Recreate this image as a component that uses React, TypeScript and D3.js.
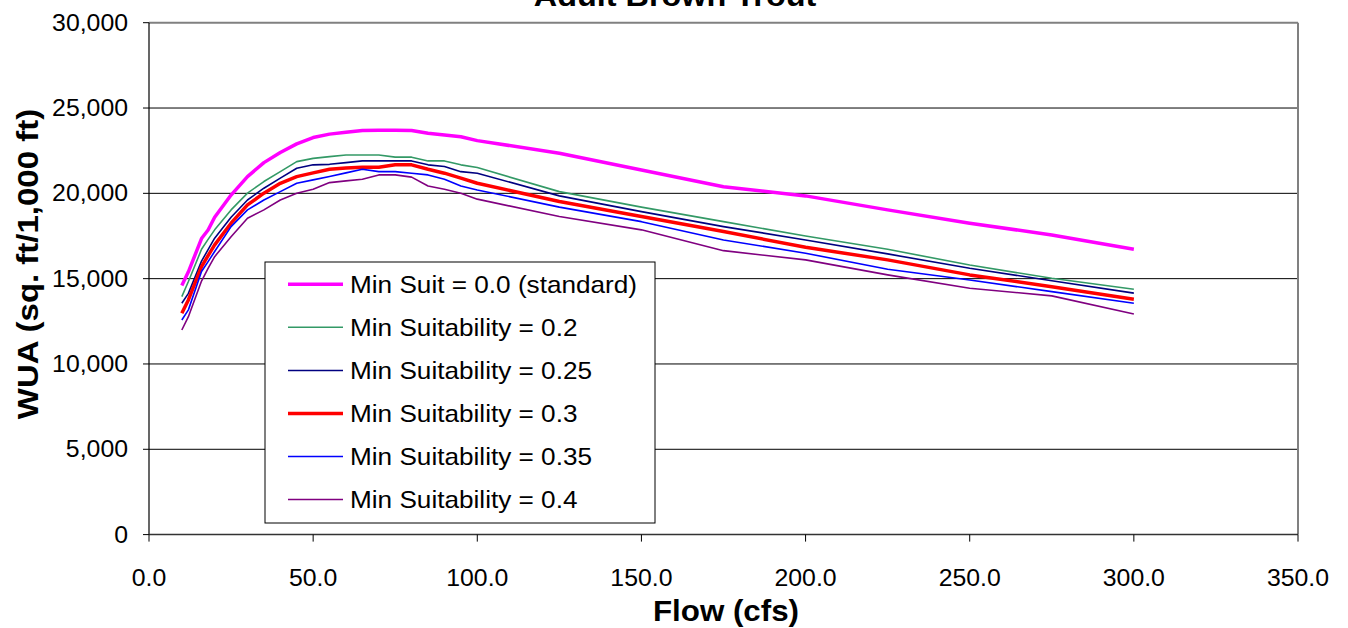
import React from "react";
import * as d3 from "d3";

const flows = [10, 12, 16, 18, 20, 25, 30, 35, 40, 45, 50, 55, 60, 65, 70, 75, 80, 85, 90, 95, 100, 125, 150, 175, 200, 225, 250, 275, 300];

const suit00 = [14600, 15400, 17350, 17850, 18600, 19900, 20980, 21800, 22390, 22900, 23270, 23470, 23580, 23680, 23700, 23700, 23680, 23520, 23420, 23320, 23090, 22350, 21370, 20390, 19850, 19030, 18250, 17560, 16720];
const suit020 = [13950, 14830, 16720, 17300, 17860, 19030, 20010, 20690, 21270, 21860, 22050, 22150, 22250, 22250, 22250, 22120, 22120, 21900, 21900, 21670, 21510, 20100, 19190, 18340, 17500, 16720, 15800, 15020, 14380];
const suit025 = [13560, 14140, 16030, 16700, 17370, 18600, 19610, 20300, 20890, 21470, 21670, 21700, 21800, 21900, 21900, 21900, 21900, 21670, 21570, 21270, 21180, 19850, 18930, 18050, 17270, 16450, 15610, 14880, 14150];
const suit030 = [12970, 13750, 15700, 16350, 16980, 18250, 19320, 20010, 20590, 20980, 21200, 21410, 21480, 21530, 21530, 21670, 21670, 21410, 21180, 20890, 20590, 19520, 18640, 17760, 16840, 16100, 15220, 14530, 13790];
const suit035 = [12580, 13170, 15420, 16000, 16590, 18050, 19030, 19610, 20100, 20590, 20790, 20990, 21200, 21410, 21270, 21270, 21180, 21080, 20830, 20430, 20200, 19190, 18340, 17270, 16490, 15550, 14920, 14240, 13560];
const suit040 = [11990, 12770, 14860, 15600, 16290, 17460, 18540, 19030, 19610, 20010, 20240, 20630, 20730, 20830, 21080, 21080, 20950, 20430, 20240, 20010, 19660, 18640, 17860, 16640, 16100, 15220, 14440, 13990, 12930];

const seriesNames = [
  "Min Suit = 0.0 (standard)",
  "Min Suitability = 0.2",
  "Min Suitability = 0.25",
  "Min Suitability = 0.3",
  "Min Suitability = 0.35",
  "Min Suitability = 0.4",
];
const seriesValues = [suit00, suit020, suit025, suit030, suit035, suit040];
const seriesColors = ["#FF00FF", "#339966", "#000080", "#FF0000", "#0000FF", "#800080"];
const seriesWidths = [3.5, 1.6, 1.6, 3.5, 1.6, 1.6];

const xTicks = [0, 50, 100, 150, 200, 250, 300, 350];
const yTicks = [0, 5000, 10000, 15000, 20000, 25000, 30000];

const title = "Adult Brown Trout";
const xTitle = "Flow (cfs)";
const yTitle = "WUA (sq. ft/1,000 ft)";

const W = 1348;
const H = 628;
const left = 149;
const right = 1298;
const top = 22.7;
const bottom = 534.6;
const FONT = "'Liberation Sans', Arial, sans-serif";
const SX = 1.08;

export default function App() {
  const x = d3.scaleLinear().domain([0, 350]).range([left, right]);
  const y = d3.scaleLinear().domain([0, 30000]).range([bottom, top]);
  const fmtY = d3.format(",");
  const fmtX = d3.format(".1f");

  const line = d3
    .line<number>()
    .x((_, i) => x(flows[i]))
    .y((d) => y(d));

  const legX = 265;
  const legY = 262;
  const legW = 390;
  const legH = 261;
  const rowY = [284.3, 327.3, 370.5, 413.5, 456.5, 499.5];

  return (
    <svg
      width={W}
      height={H}
      style={{ position: "absolute", left: 0, top: 0, background: "#fff" }}
      fontFamily={FONT}
    >
      <rect x={0} y={0} width={W} height={H} fill="#fff" />
      {yTicks.slice(1, -1).map((t) => (
        <line key={t} x1={left} x2={right} y1={y(t)} y2={y(t)} stroke="#000" strokeWidth={1} />
      ))}
      <line x1={left} x2={right} y1={top} y2={top} stroke="#808080" strokeWidth={2} />
      <line x1={right} x2={right} y1={top} y2={bottom} stroke="#808080" strokeWidth={2} />
      <line x1={left} x2={left} y1={top} y2={bottom} stroke="#000" strokeWidth={1.2} />
      <line x1={left} x2={right} y1={bottom} y2={bottom} stroke="#333" strokeWidth={1.5} />
      {yTicks.map((t) => (
        <g key={t}>
          <line x1={left - 6} x2={left} y1={y(t)} y2={y(t)} stroke="#000" strokeWidth={1} />
          <text
            transform={`translate(${128},${y(t) + 8}) scale(${SX},1)`}
            textAnchor="end"
            fontSize={23}
            fill="#000"
          >
            {fmtY(t)}
          </text>
        </g>
      ))}
      {xTicks.map((t) => (
        <g key={t}>
          <line x1={x(t)} x2={x(t)} y1={bottom} y2={bottom + 7} stroke="#000" strokeWidth={1} />
          <text
            transform={`translate(${x(t)},${586}) scale(${SX},1)`}
            textAnchor="middle"
            fontSize={23}
            fill="#000"
          >
            {fmtX(t)}
          </text>
        </g>
      ))}
      {seriesValues.map((vals, i) => (
        <path
          key={i}
          d={line(vals) || ""}
          fill="none"
          stroke={seriesColors[i]}
          strokeWidth={seriesWidths[i]}
          strokeLinejoin="round"
        />
      ))}
      <rect x={legX} y={legY} width={legW} height={legH} fill="#fff" stroke="#000" strokeWidth={1} />
      {seriesNames.map((n, i) => (
        <g key={n}>
          <line
            x1={288}
            x2={343}
            y1={rowY[i]}
            y2={rowY[i]}
            stroke={seriesColors[i]}
            strokeWidth={seriesWidths[i]}
          />
          <text
            transform={`translate(${350},${rowY[i] + 8.5}) scale(1.09,1)`}
            fontSize={24}
            fill="#000"
          >
            {n}
          </text>
        </g>
      ))}
      <text
        transform={`translate(${675},${6}) scale(${SX},1)`}
        textAnchor="middle"
        fontSize={30}
        fontWeight="bold"
        fill="#000"
      >
        {title}
      </text>
      <text
        transform={`translate(${726},${621}) scale(${SX},1)`}
        textAnchor="middle"
        fontSize={29}
        fontWeight="bold"
        fill="#000"
      >
        {xTitle}
      </text>
      <text
        transform={`translate(${38},${264}) rotate(-90) scale(1.1,1)`}
        textAnchor="middle"
        fontSize={30}
        fontWeight="bold"
        fill="#000"
      >
        {yTitle}
      </text>
    </svg>
  );
}
